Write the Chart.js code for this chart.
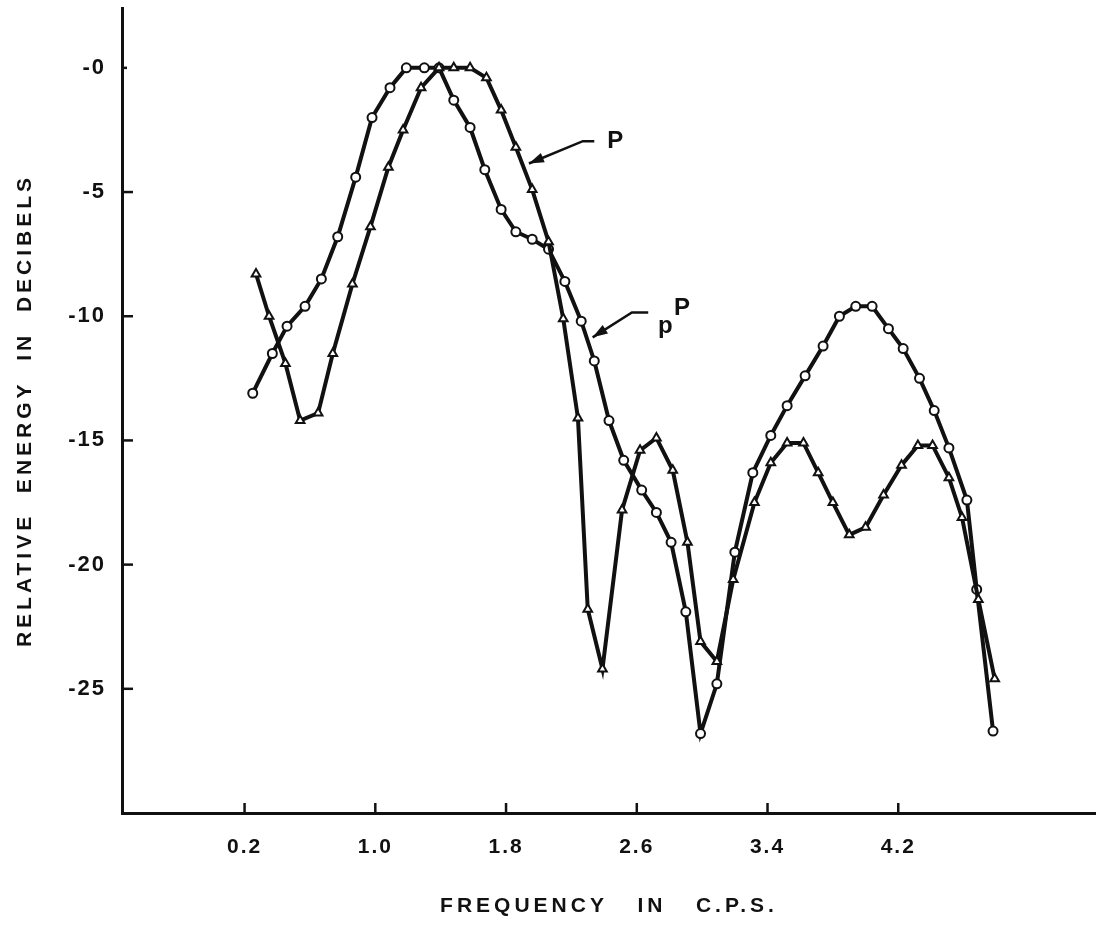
<!DOCTYPE html>
<html>
<head>
<meta charset="utf-8">
<title>Relative energy spectra of P and pP</title>
<script src="https://cdn.jsdelivr.net/npm/chart.js@4.4.1/dist/chart.umd.min.js"></script>
<style>
  html, body { margin: 0; padding: 0; background: #fff; }
  #wrap { width: 1096px; height: 928px; }
</style>
</head>
<body>
<div id="wrap"><canvas id="spectrum" width="1096" height="928"></canvas></div>
<script>
// P phase (triangles): frequency in c.p.s. and relative energy in db
const freqP = [0.27, 0.35, 0.45, 0.54, 0.65, 0.74, 0.86, 0.97, 1.08, 1.17, 1.28, 1.39,
  1.48, 1.58, 1.68, 1.77, 1.86, 1.96, 2.06, 2.15, 2.24, 2.30, 2.39, 2.51, 2.62, 2.72,
  2.82, 2.91, 2.99, 3.09, 3.19, 3.32, 3.42, 3.52, 3.62, 3.71, 3.80, 3.90, 4.00, 4.11,
  4.22, 4.32, 4.41, 4.51, 4.59, 4.69, 4.79];
const energyP = [-8.3, -10.0, -11.9, -14.2, -13.9, -11.5, -8.7, -6.4, -4.0, -2.5, -0.8, 0,
  0, 0, -0.4, -1.7, -3.2, -4.9, -7.0, -10.1, -14.1, -21.8, -24.2, -17.8, -15.4, -14.9,
  -16.2, -19.1, -23.1, -23.9, -20.6, -17.5, -15.9, -15.1, -15.1, -16.3, -17.5, -18.8, -18.5, -17.2,
  -16.0, -15.2, -15.2, -16.5, -18.1, -21.4, -24.6];

// pP phase (circles)
const freqPP = [0.25, 0.37, 0.46, 0.57, 0.67, 0.77, 0.88, 0.98, 1.09, 1.19, 1.30, 1.39,
  1.48, 1.58, 1.67, 1.77, 1.86, 1.96, 2.06, 2.16, 2.26, 2.34, 2.43, 2.52, 2.63, 2.72,
  2.81, 2.90, 2.99, 3.09, 3.20, 3.31, 3.42, 3.52, 3.63, 3.74, 3.84, 3.94, 4.04, 4.14,
  4.23, 4.33, 4.42, 4.51, 4.62, 4.68, 4.78];
const energyPP = [-13.1, -11.5, -10.4, -9.6, -8.5, -6.8, -4.4, -2.0, -0.8, 0, 0, 0,
  -1.3, -2.4, -4.1, -5.7, -6.6, -6.9, -7.3, -8.6, -10.2, -11.8, -14.2, -15.8, -17.0, -17.9,
  -19.1, -21.9, -26.8, -24.8, -19.5, -16.3, -14.8, -13.6, -12.4, -11.2, -10.0, -9.6, -9.6, -10.5,
  -11.3, -12.5, -13.8, -15.3, -17.4, -21.0, -26.7];

const xTicks = [0.2, 1.0, 1.8, 2.6, 3.4, 4.2];
const yTicks = [0, -5, -10, -15, -20, -25];

// callout leaders: [arrow tip, elbow, end of shoulder] and where the tag sits
const leaderP = [[1.94, -3.85], [2.27, -2.95], [2.34, -2.95]];
const tagP = [2.42, -2.95];
const leaderPP = [[2.33, -10.85], [2.57, -9.85], [2.67, -9.85]];
const tagPP = [2.73, -10.4];

const INK = '#111';
const FONT = '"Liberation Sans", "DejaVu Sans", sans-serif';

function toPts(xs, ys) {
  return xs.map((x, i) => ({ x: x, y: ys[i] }));
}

// stencil-style lettering is widely spaced; applies to the tick labels
const spacedLabels = {
  id: 'spacedLabels',
  beforeDraw(chart) {
    chart.ctx.save();
    chart.ctx.letterSpacing = '2px';
  },
  afterDatasetsDraw(chart) {
    chart.ctx.restore();
  }
};

// inward tick marks, axis titles and the P / pP callouts
const decorations = {
  id: 'decorations',
  afterDraw(chart) {
    const ctx = chart.ctx;
    const xs = chart.scales.x, ys = chart.scales.y;
    const area = chart.chartArea;
    ctx.save();
    ctx.strokeStyle = INK;
    ctx.fillStyle = INK;
    ctx.lineWidth = 2.5;
    xTicks.forEach(v => {
      const px = xs.getPixelForValue(v);
      ctx.beginPath();
      ctx.moveTo(px, area.bottom);
      ctx.lineTo(px, area.bottom - 10);
      ctx.stroke();
    });
    yTicks.forEach(v => {
      const py = ys.getPixelForValue(v);
      ctx.beginPath();
      ctx.moveTo(area.left, py);
      ctx.lineTo(area.left + (v === 0 ? 5 : 11), py);
      ctx.stroke();
    });

    // leaders with arrowheads
    function leader(pts) {
      const p = pts.map(q => [xs.getPixelForValue(q[0]), ys.getPixelForValue(q[1])]);
      ctx.lineWidth = 2.5;
      ctx.beginPath();
      ctx.moveTo(p[0][0], p[0][1]);
      for (let i = 1; i < p.length; i++) ctx.lineTo(p[i][0], p[i][1]);
      ctx.stroke();
      const ang = Math.atan2(p[1][1] - p[0][1], p[1][0] - p[0][0]);
      const len = 15, half = 5;
      ctx.beginPath();
      ctx.moveTo(p[0][0], p[0][1]);
      ctx.lineTo(p[0][0] + len * Math.cos(ang) - half * Math.sin(ang),
                 p[0][1] + len * Math.sin(ang) + half * Math.cos(ang));
      ctx.lineTo(p[0][0] + len * Math.cos(ang) + half * Math.sin(ang),
                 p[0][1] + len * Math.sin(ang) - half * Math.cos(ang));
      ctx.closePath();
      ctx.fill();
    }
    leader(leaderP);
    leader(leaderPP);

    ctx.textBaseline = 'middle';
    ctx.textAlign = 'left';
    ctx.font = 'bold 24px ' + FONT;
    ctx.fillText('P', xs.getPixelForValue(tagP[0]), ys.getPixelForValue(tagP[1]));
    const ppx = xs.getPixelForValue(tagPP[0]), ppy = ys.getPixelForValue(tagPP[1]);
    ctx.fillText('p', ppx, ppy);
    ctx.fillText('P', ppx + 16, ppy - 18);

    // axis titles
    ctx.textAlign = 'center';
    ctx.font = 'bold 21px ' + FONT;
    ctx.letterSpacing = '4px';
    ctx.fillText('FREQUENCY   IN   C.P.S.', (xs.left + xs.right) / 2, xs.bottom - 22);
    ctx.translate(25, (ys.top + ys.bottom) / 2);
    ctx.rotate(-Math.PI / 2);
    ctx.fillText('RELATIVE  ENERGY  IN  DECIBELS', 0, 0);
    ctx.restore();
  }
};

new Chart(document.getElementById('spectrum'), {
  type: 'line',
  data: {
    datasets: [
      {
        label: 'P',
        data: toPts(freqP, energyP),
        borderColor: INK,
        borderWidth: 4,
        pointStyle: 'triangle',
        pointRadius: 5,
        pointBorderWidth: 2,
        pointBackgroundColor: '#fff',
        pointBorderColor: INK,
        tension: 0
      },
      {
        label: 'pP',
        data: toPts(freqPP, energyPP),
        borderColor: INK,
        borderWidth: 4,
        pointStyle: 'circle',
        pointRadius: 4.5,
        pointBorderWidth: 2,
        pointBackgroundColor: '#fff',
        pointBorderColor: INK,
        tension: 0
      }
    ]
  },
  options: {
    responsive: false,
    animation: false,
    devicePixelRatio: 1,
    layout: { autoPadding: false, padding: { top: 8, right: 0, bottom: 0, left: 0 } },
    plugins: { legend: { display: false }, tooltip: { enabled: false } },
    scales: {
      x: {
        type: 'linear',
        min: -0.55,
        max: 5.41,
        afterFit(s) {
          s.height = 115;
          s.paddingLeft = 0;
          s.paddingRight = 0;
        },
        afterBuildTicks(s) { s.ticks = xTicks.map(v => ({ value: v })); },
        grid: { display: false },
        border: { display: true, width: 3, color: INK },
        ticks: {
          autoSkip: false,
          maxRotation: 0,
          padding: 14,
          color: INK,
          font: { family: FONT, size: 21, weight: 'bold' },
          callback: v => v.toFixed(1)
        }
      },
      y: {
        type: 'linear',
        min: -30,
        max: 2.41,
        afterFit(s) {
          s.width = 122;
          s.paddingTop = 0;
          s.paddingBottom = 0;
        },
        afterBuildTicks(s) { s.ticks = yTicks.map(v => ({ value: v })); },
        grid: { display: false },
        border: { display: true, width: 3, color: INK },
        ticks: {
          padding: 8,
          color: INK,
          font: { family: FONT, size: 22, weight: 'bold' },
          callback: v => (v === 0 ? '-0' : String(v))
        }
      }
    }
  },
  plugins: [spacedLabels, decorations]
});
</script>
</body>
</html>
